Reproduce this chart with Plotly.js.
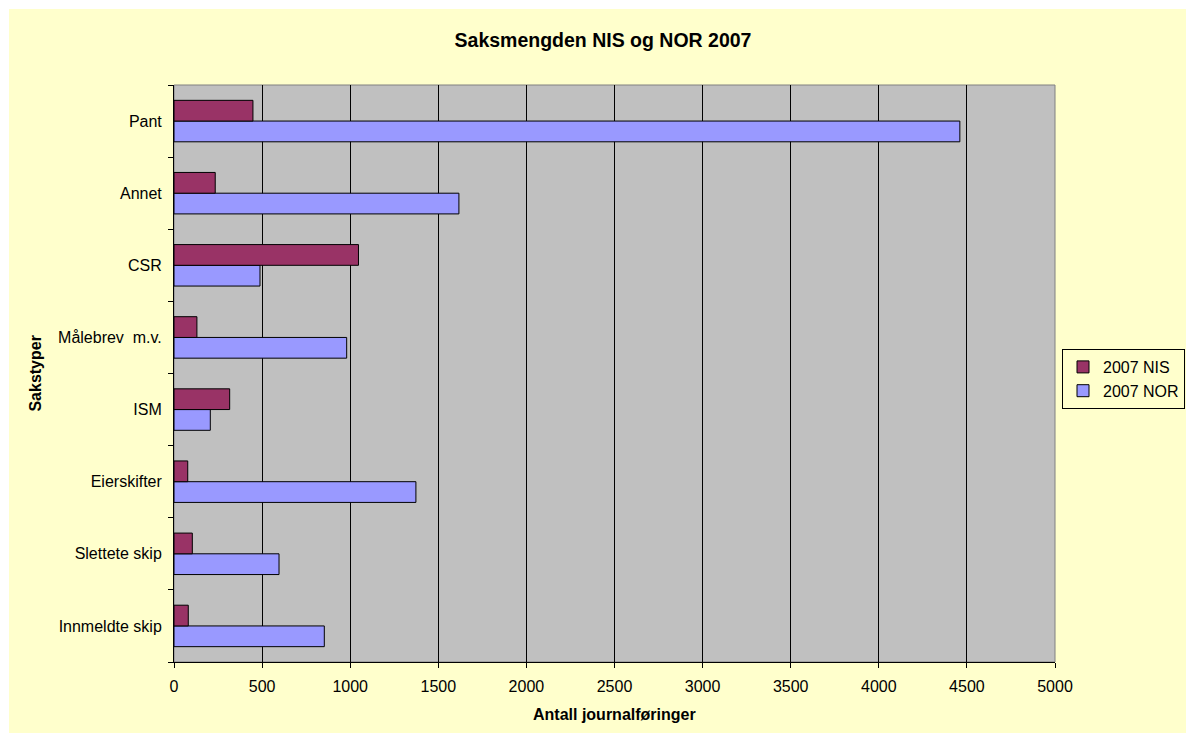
<!DOCTYPE html>
<html>
<head>
<meta charset="utf-8">
<script src="https://cdn.plot.ly/plotly-3.0.1.min.js"></script>
<style>
  html, body { margin: 0; padding: 0; background: #ffffff; overflow: hidden; }
  #chart { position: absolute; left: 9px; top: 9px; width: 1177px; height: 724px; }
</style>
</head>
<body>
<div id="chart"></div>
<script>
const categories = ["Innmeldte skip", "Slettete skip", "Eierskifter", "ISM", "Målebrev\u00a0 m.v.", "CSR", "Annet", "Pant"];
const nisValues = [81, 104, 78, 316, 130, 1047, 234, 448];
const norValues = [853, 596, 1373, 206, 980, 488, 1617, 4460];
const xTicks = [0, 500, 1000, 1500, 2000, 2500, 3000, 3500, 4000, 4500, 5000];
const seriesNames = ["2007 NIS", "2007 NOR"];

const FONT = "Arial, 'Liberation Sans', sans-serif";

const traces = [
  {
    type: "bar", orientation: "h", name: seriesNames[1],
    y: categories, x: norValues,
    marker: { color: "#9999FF", line: { color: "#000000", width: 1 } },
    legendrank: 2, hoverinfo: "x+y"
  },
  {
    type: "bar", orientation: "h", name: seriesNames[0],
    y: categories, x: nisValues,
    marker: { color: "#993366", line: { color: "#000000", width: 1 } },
    legendrank: 1, hoverinfo: "x+y"
  }
];

const layout = {
  width: 1177, height: 724,
  paper_bgcolor: "#FFFFCC",
  plot_bgcolor: "#C0C0C0",
  font: { family: FONT, size: 16, color: "#000000" },
  margin: { l: 165, r: 130.5, t: 76, b: 71.3, pad: 0, autoexpand: false },
  barmode: "group",
  bargap: 0.425,
  bargroupgap: 0,
  title: {
    text: "<b>Saksmengden NIS og NOR 2007</b>",
    font: { family: FONT, size: 19.5, color: "#000000" },
    x: 594 / 1177, xref: "container", xanchor: "center",
    y: 1 - 31 / 724, yref: "container", yanchor: "middle"
  },
  xaxis: {
    range: [0, 5000],
    tickvals: xTicks,
    ticktext: xTicks.map(String),
    showgrid: true, gridcolor: "#000000", gridwidth: 1,
    zeroline: false,
    showline: true, linecolor: "#000000", linewidth: 1,
    ticks: "outside", ticklen: 5, tickcolor: "#000000",
    ticklabelstandoff: 5,
    tickfont: { family: FONT, size: 16, color: "#000000" },
    fixedrange: true, automargin: false
  },
  yaxis: {
    type: "category",
    categoryorder: "array", categoryarray: categories,
    showgrid: false, zeroline: false,
    showline: true, linecolor: "#000000", linewidth: 1,
    ticks: "outside", ticklen: 5, tickcolor: "#000000",
    tickson: "boundaries",
    ticklabelstandoff: 8,
    tickfont: { family: FONT, size: 16, color: "#000000" },
    fixedrange: true, automargin: false
  },
  shapes: [
    { type: "rect", xref: "paper", yref: "paper", x0: 0, x1: 1, y0: 0, y1: 1,
      line: { color: "#808080", width: 1 }, layer: "below" }
  ],
  annotations: [
    { text: "<b>Antall journalføringer</b>", xref: "paper", yref: "paper",
      x: 0.5, y: -(705.5 - 652.7) / 576.7, xanchor: "center", yanchor: "middle",
      showarrow: false, font: { family: FONT, size: 16, color: "#000000" } },
    { text: "<b>Sakstyper</b>", xref: "paper", yref: "paper", textangle: -90,
      x: -(165 - 26) / 881.5, y: 0.5, xanchor: "center", yanchor: "middle",
      showarrow: false, font: { family: FONT, size: 16, color: "#000000" } }
  ],
  legend: {
    xref: "container", yref: "container",
    x: (1062 - 9) / 1177, xanchor: "left",
    y: 1 - (349 - 9) / 724, yanchor: "top",
    bgcolor: "#FFFFCC", bordercolor: "#000000", borderwidth: 1,
    font: { family: FONT, size: 16, color: "#000000" },
    itemwidth: 30, tracegroupgap: 0
  },
  showlegend: true
};

Plotly.newPlot("chart", traces, layout, { displayModeBar: false, staticPlot: true });
</script>
</body>
</html>
